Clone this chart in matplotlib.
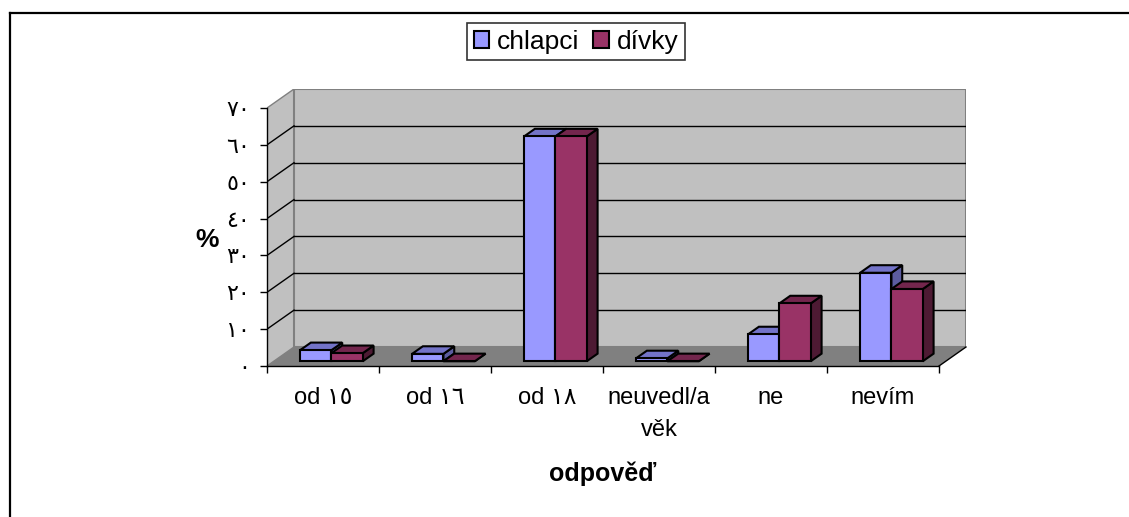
import matplotlib
matplotlib.use("Agg")
import matplotlib.pyplot as plt
from matplotlib.patches import Polygon, Rectangle
from matplotlib.lines import Line2D

plt.rcParams['font.family'] = ['Liberation Sans', 'DejaVu Sans']

# ---- data ----
categories = ["od ١٥", "od ١٦", "od ١٨", "neuvedl/a\nvěk", "ne", "nevím"]
series_names = ["chlapci", "dívky"]
chlapci = [3.0, 2.0, 61.0, 0.8, 7.3, 24.0]
divky = [2.2, 0.0, 61.0, 0.0, 15.7, 19.6]
y_ticks = [0, 10, 20, 30, 40, 50, 60, 70]
y_tick_labels = ["٠", "١٠", "٢٠", "٣٠", "٤٠", "٥٠", "٦٠", "٧٠"]
x_title = "odpověď"
y_title = "%"

# ---- styling ----
W_PX, H_PX = 1129, 517
front_col = ["#9999FF", "#993366"]
top_col = ["#7373C8", "#73264D"]
side_col = ["#5C5CA0", "#4D1A33"]
wall_col = "#C0C0C0"
floor_col = "#808080"

n = len(categories)
ymax = 70
DX = 27 / 112.0          # depth offset in category units
DY = 19 / 3.686          # depth offset in value units
d0, d1 = 0.25, 0.65      # bar depth range (fraction of depth)
BW = 0.28                # bar width
x_off = 0.235            # offset of first bar inside category
EDGE_LW = 1.5

fig = plt.figure(figsize=(W_PX / 100, H_PX / 100), dpi=100)
left_px, right_px = 267, 966
bot_px, top_px = 366, 89
ax = fig.add_axes([left_px / W_PX, 1 - bot_px / H_PX,
                   (right_px - left_px) / W_PX, (bot_px - top_px) / H_PX])
ax.set_xlim(0, n + DX)
ax.set_ylim(0, ymax + DY)
ax.patch.set_visible(False)

# walls
ax.add_patch(Polygon([(0, 0), (0, ymax), (DX, ymax + DY), (DX, DY)], closed=True,
                     facecolor=wall_col, edgecolor="#808080", lw=1, zorder=0))
ax.add_patch(Rectangle((DX, DY), n, ymax, facecolor=wall_col, edgecolor="#808080",
                       lw=1.5, zorder=0))
ax.add_patch(Polygon([(0, 0), (n, 0), (n + DX, DY), (DX, DY)], closed=True,
                     facecolor=floor_col, edgecolor="none", zorder=0.5))
for v in y_ticks[1:-1]:
    ax.plot([DX, n + DX], [v + DY, v + DY], color="black", lw=1, zorder=1)
for v in y_ticks[1:-1]:
    ax.plot([0, DX], [v, v + DY], color="black", lw=1, zorder=1)
ax.plot([n, n + DX], [0, DY], color="black", lw=1, zorder=1, clip_on=False)

# bars: side and top faces, then front faces (ax.bar)
for i in range(n):
    for s, vals in enumerate([chlapci, divky]):
        v = vals[i]
        x0 = i + x_off + s * BW
        z = 3 + i * 0.1 + s * 0.02
        top = [(x0 + d0 * DX, v + d0 * DY), (x0 + BW + d0 * DX, v + d0 * DY),
               (x0 + BW + d1 * DX, v + d1 * DY), (x0 + d1 * DX, v + d1 * DY)]
        side = [(x0 + BW + d0 * DX, d0 * DY), (x0 + BW + d1 * DX, d1 * DY),
                (x0 + BW + d1 * DX, v + d1 * DY), (x0 + BW + d0 * DX, v + d0 * DY)]
        ax.add_patch(Polygon(side, closed=True, facecolor=side_col[s],
                             edgecolor="black", lw=EDGE_LW, zorder=z - 0.005))
        ax.add_patch(Polygon(top, closed=True, facecolor=top_col[s],
                             edgecolor="black", lw=EDGE_LW, zorder=z - 0.004))

for s, vals in enumerate([chlapci, divky]):
    xs = [i + x_off + s * BW + d0 * DX for i in range(n)]
    bars = ax.bar(xs, vals, width=BW, bottom=d0 * DY, align='edge',
                  color=front_col[s], edgecolor="black", lw=EDGE_LW,
                  label=series_names[s])
    for i, b in enumerate(bars):
        b.set_zorder(3 + i * 0.1 + s * 0.02)

# axes spines / ticks
for sp in ["top", "right"]:
    ax.spines[sp].set_visible(False)
ax.spines["left"].set_bounds(0, ymax)
ax.spines["bottom"].set_bounds(0, n)
ax.spines["left"].set_linewidth(1)
ax.spines["bottom"].set_linewidth(1)
ax.spines["left"].set_zorder(2)
ax.spines["bottom"].set_zorder(2)

ax.set_yticks(y_ticks)
ax.set_yticklabels(y_tick_labels, fontsize=16)
ax.tick_params(axis='y', direction='out', length=5, width=1, pad=7)

ax.set_xticks(range(n + 1))
ax.set_xticklabels([""] * (n + 1))
ax.tick_params(axis='x', which='major', direction='out', length=5, width=1)
ax.set_xticks([i + 0.5 for i in range(n)], minor=True)
ax.set_xticklabels(categories, minor=True, fontsize=17)
ax.tick_params(axis='x', which='minor', length=0, pad=15)
for lbl in ax.get_xticklabels(minor=True):
    lbl.set_linespacing(1.6)

# titles
fig.text(603 / W_PX, 1 - 474 / H_PX, x_title, ha='center', va='center',
         fontsize=18, fontweight='bold')
fig.text(207 / W_PX, 1 - 240 / H_PX, y_title, ha='center', va='center',
         fontsize=19, fontweight='bold')

# legend
leg = fig.legend(loc='upper center', bbox_to_anchor=(576 / W_PX, 1 - 23 / H_PX),
                 ncol=2, fontsize=19, frameon=True, fancybox=False,
                 handlelength=0.6, handleheight=0.6, handletextpad=0.3,
                 columnspacing=0.5, borderpad=0.25, borderaxespad=0)
leg.get_frame().set_edgecolor("black")
leg.get_frame().set_linewidth(1.2)
for h in leg.legend_handles:
    h.set_edgecolor("black")
    h.set_linewidth(1.5)

# outer frame
fig.add_artist(Line2D([10 / W_PX, 10 / W_PX], [0, 1 - 13 / H_PX], color="black", lw=1.6))
fig.add_artist(Line2D([10 / W_PX, 1], [1 - 13 / H_PX, 1 - 13 / H_PX], color="black", lw=1.6))

fig.savefig("out.png", dpi=100)
